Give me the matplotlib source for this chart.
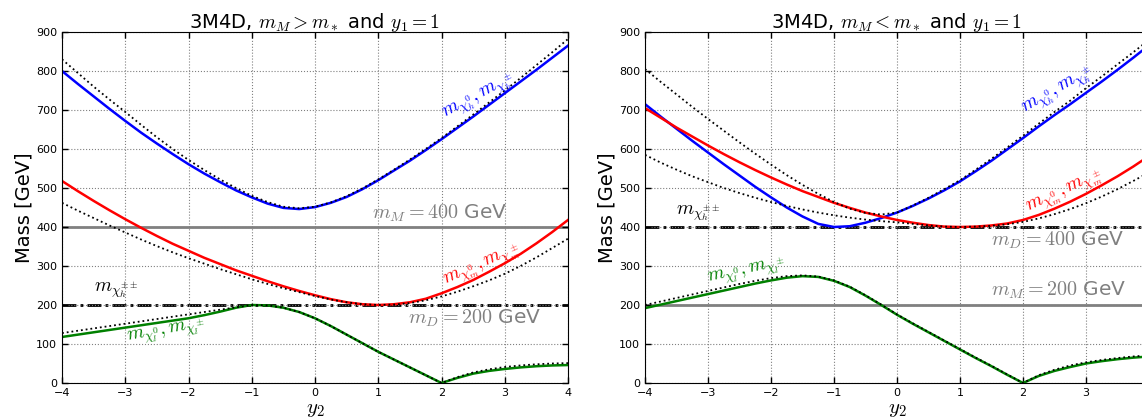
import numpy as np
import matplotlib
matplotlib.use('Agg')
import matplotlib.pyplot as plt

plt.rcParams['mathtext.fontset'] = 'cm'
plt.rcParams['font.family'] = ['DejaVu Sans']

# y2 grid (values read every 0.25)
y2 = np.arange(-4, 4.001, 0.25)

# ---- left panel: m_M = 400, m_D = 200
left_heavy = [800, 767, 735, 703, 672, 642, 614, 587, 561, 537, 515, 494, 476, 460, 449, 446, 451,
              462, 477, 497, 520, 545, 570, 597, 625, 654, 683, 713, 743, 773, 803, 834, 865]
left_heavy_dot = [830, 795, 760, 727, 695, 662, 630, 600, 572, 546, 522, 500, 480, 464, 452, 448, 452,
                  463, 479, 499, 522, 547, 573, 600, 628, 658, 688, 719, 750, 782, 815, 848, 882]
left_mid = [518, 492, 467, 443, 420, 398, 377, 357, 339, 321, 305, 289, 275, 261, 248, 236, 225,
            215, 207, 202, 200, 202, 207, 216, 230, 246, 264, 285, 307, 331, 358, 387, 418]
left_mid_dot = [462, 442, 423, 404, 386, 368, 351, 335, 320, 306, 292, 279, 266, 254, 243, 233, 223,
                214, 207, 202, 200, 201, 205, 212, 222, 234, 248, 263, 280, 300, 322, 346, 370]
left_light = [118, 124, 130, 136, 142, 148, 154, 160, 166, 174, 183, 193, 200, 199, 193, 182, 166,
              146, 124, 102, 80, 60, 40, 20, 0, 13, 24, 31, 36, 40, 43, 45, 46]
left_light_dot = [128, 134, 140, 146, 152, 158, 164, 170, 176, 182, 188, 194, 200, 199, 193, 182, 166,
                  146, 124, 102, 80, 60, 40, 20, 0, 15, 27, 35, 41, 45, 48, 50, 51]

# ---- right panel: m_M = 200, m_D = 400
right_heavy = [715, 683, 652, 621, 591, 561, 532, 503, 476, 450, 427, 408, 400, 402, 411, 423, 437,
               454, 473, 494, 517, 543, 570, 599, 628, 658, 687, 715, 744, 773, 803, 834, 866]
right_heavy_dot = [805, 772, 740, 708, 677, 647, 617, 588, 560, 533, 508, 485, 464, 447, 436, 432, 437,
                   455, 475, 497, 520, 547, 575, 604, 634, 665, 695, 724, 756, 786, 817, 848, 880]
right_mid = [705, 680, 655, 632, 609, 587, 566, 546, 527, 509, 492, 477, 462, 449, 437, 427, 418,
             411, 405, 401, 400, 401, 404, 409, 418, 431, 447, 465, 485, 507, 530, 555, 582]
right_mid_dot = [585, 565, 547, 530, 515, 500, 487, 475, 464, 454, 445, 437, 430, 424, 419, 415, 412,
                 408, 404, 401, 400, 401, 403, 407, 413, 422, 433, 446, 461, 478, 497, 518, 540]
right_light = [192, 201, 210, 219, 228, 237, 246, 255, 263, 270, 274, 272, 262, 246, 224, 200, 175,
               152, 130, 108, 86, 64, 43, 21, 0, 18, 31, 41, 50, 56, 61, 65, 68]
right_light_dot = [200, 209, 218, 227, 236, 245, 254, 262, 269, 274, 276, 273, 263, 247, 225, 201, 176,
                   153, 131, 109, 87, 65, 44, 22, 0, 20, 34, 45, 53, 59, 64, 68, 71]

panels = [
    dict(title=r'3M4D, $m_M > m_*$ and $y_1 = 1$', mM=400, mD=200,
         heavy=left_heavy, heavy_dot=left_heavy_dot, mid=left_mid, mid_dot=left_mid_dot,
         light=left_light, light_dot=left_light_dot),
    dict(title=r'3M4D, $m_M < m_*$ and $y_1 = 1$', mM=200, mD=400,
         heavy=right_heavy, heavy_dot=right_heavy_dot, mid=right_mid, mid_dot=right_mid_dot,
         light=right_light, light_dot=right_light_dot),
]

fig = plt.figure(figsize=(11.42, 4.2), dpi=100)
ax1 = fig.add_axes([62/1142, 37/420, 506/1142, 351/420])
ax2 = fig.add_axes([645/1142, 37/420, 504/1142, 351/420])

for ax, p in zip([ax1, ax2], panels):
    ax.axhline(p['mM'], color='gray', lw=2, zorder=1)
    ax.axhline(p['mD'], color='k', lw=2, ls=(0, (5, 1.5, 1, 1.5)), zorder=1)
    ax.plot(y2, p['heavy'], color='b', lw=1.8)
    ax.plot(y2, p['mid'], color='r', lw=1.8)
    ax.plot(y2, p['light'], color='green', lw=1.8)
    for k in ['heavy_dot', 'mid_dot', 'light_dot']:
        ax.plot(y2, p[k], color='k', lw=1.3, ls=':')
    ax.set_xlim(-4, 4)
    ax.set_ylim(0, 900)
    ax.set_xticks(range(-4, 5))
    ax.set_yticks(range(0, 901, 100))
    ax.grid(True, color='gray', ls=':', lw=0.8)
    ax.tick_params(direction='in', top=True, right=True, length=4, width=1, labelsize=8)
    ax.set_title(p['title'], fontsize=14, pad=3)
    ax.set_xlabel('$y_2$', fontsize=15, labelpad=1)
    ax.set_ylabel('Mass [GeV]', fontsize=14, labelpad=2)

# left annotations
ax1.text(0.9, 408, r'$m_M = 400$ GeV', color='gray', fontsize=14.5, va='bottom')
ax1.text(1.47, 165, r'$m_D = 200$ GeV', color='gray', fontsize=14.5, va='center')
ax1.text(-3.5, 238, r'$m_{\chi_h^{\pm\pm}}$', color='k', fontsize=14, va='center')
ax1.text(-2.35, 130, r'$m_{\chi_l^0}, m_{\chi_l^\pm}$', color='green', fontsize=14,
         ha='center', va='center', rotation=10)
ax1.text(2.65, 298, r'$m_{\chi_m^0}, m_{\chi_m^\pm}$', color='r', fontsize=14,
         ha='center', va='center', rotation=24)
ax1.text(2.6, 733, r'$m_{\chi_h^0}, m_{\chi_h^\pm}$', color='b', fontsize=14,
         ha='center', va='center', rotation=28)

# right annotations
ax2.text(1.49, 365, r'$m_D = 400$ GeV', color='gray', fontsize=14.5, va='center')
ax2.text(1.49, 238, r'$m_M = 200$ GeV', color='gray', fontsize=14.5, va='center')
ax2.text(-3.5, 436, r'$m_{\chi_h^{\pm\pm}}$', color='k', fontsize=14, va='center')
ax2.text(-2.38, 285, r'$m_{\chi_l^0}, m_{\chi_l^\pm}$', color='green', fontsize=14,
         ha='center', va='center', rotation=12)
ax2.text(2.66, 487, r'$m_{\chi_m^0}, m_{\chi_m^\pm}$', color='r', fontsize=14,
         ha='center', va='center', rotation=25)
ax2.text(2.56, 746, r'$m_{\chi_h^0}, m_{\chi_h^\pm}$', color='b', fontsize=14,
         ha='center', va='center', rotation=30)

fig.savefig('out.png', dpi=100)
